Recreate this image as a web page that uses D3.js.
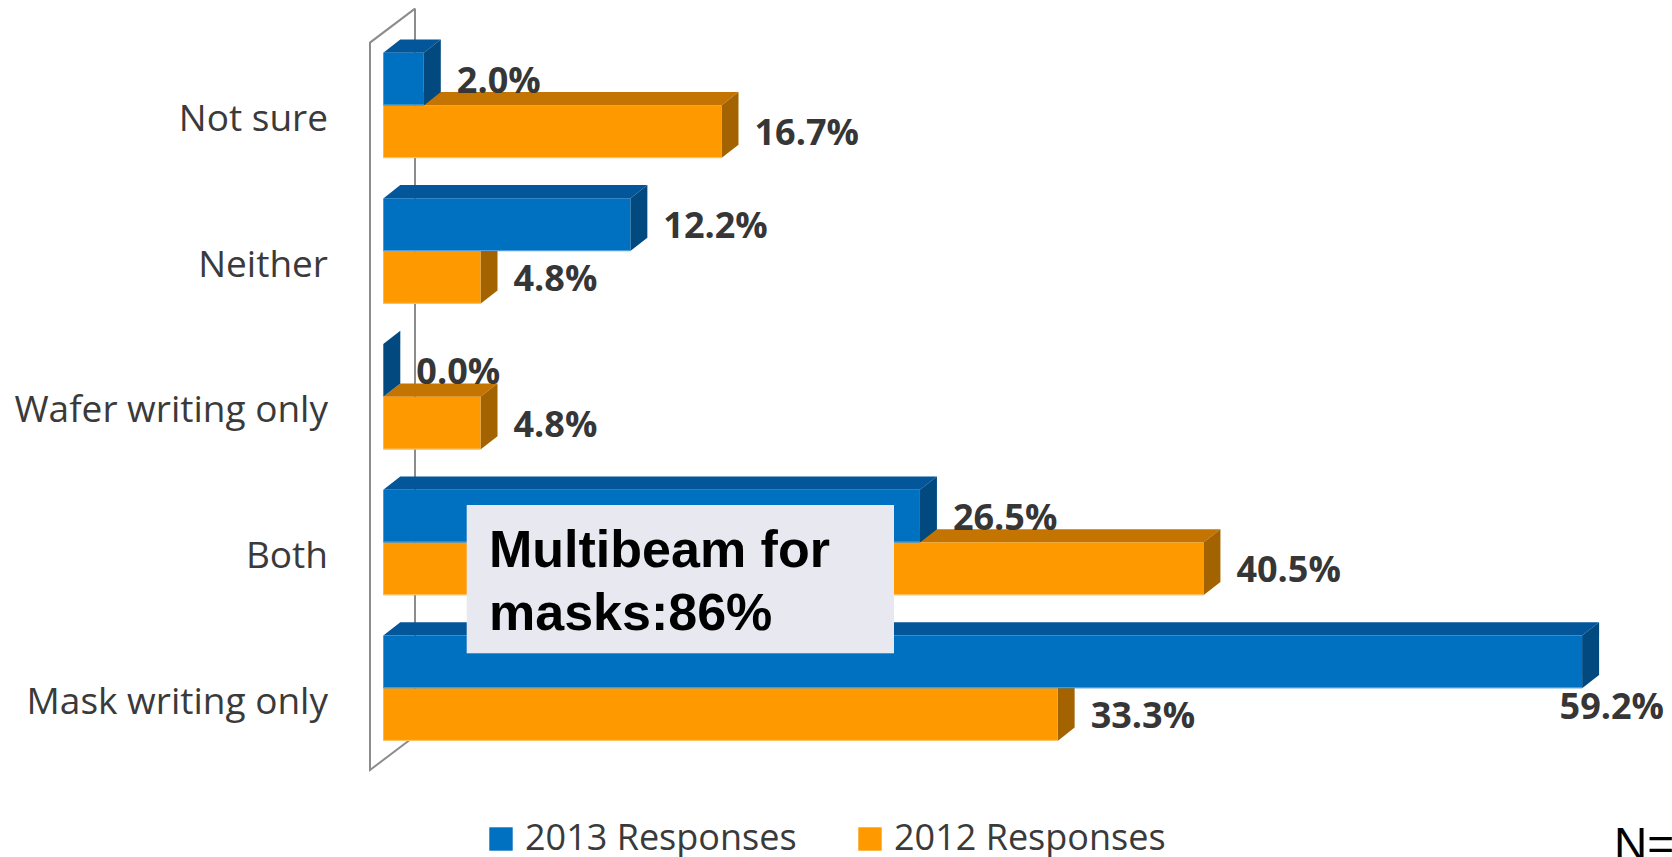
<!DOCTYPE html>
<html>
<head>
<meta charset="utf-8">
<script src="https://cdn.jsdelivr.net/npm/d3@7"></script>
<style>
  html, body { margin: 0; padding: 0; background: #ffffff; }
  svg { display: block; }
</style>
</head>
<body>
<svg id="chart" width="1672" height="857"></svg>
<script>
// Survey answers, top to bottom
const categories = ["Not sure", "Neither", "Wafer writing only", "Both", "Mask writing only"];
const seriesNames = ["2013 Responses", "2012 Responses"];
const values2013 = [2.0, 12.2, 0.0, 26.5, 59.2];
const values2012 = [16.7, 4.8, 4.8, 40.5, 33.3];
const noteLines = ["Multibeam for", "masks:86%"];
const sampleNote = "N=";

const palette = {
  "2013 Responses": { front: "#0070C0", top: "#03569A", side: "#01497F", edge: "#5AA6E0" },
  "2012 Responses": { front: "#FF9900", top: "#C47400", side: "#A36300", edge: "#FFC570" }
};

const W = 1672, H = 857;
const svg = d3.select("#chart");

// Scales
const x = d3.scaleLinear().domain([0, 60]).range([383.3, 383.3 + 60 * 20.25]);
const y = d3.scaleBand().domain(categories)
  .range([32.55, 761.05]).paddingInner(0.2766).paddingOuter(0.1383);
const ySub = d3.scaleBand().domain(seriesNames).range([0, y.bandwidth()]);

const depthX = 17, depthY = 13.3;
const plotRight = 1664;

// Back wall (3D floor edge lines)
const wallFront = x(0) - 13.3;
const wallBack = wallFront + 45;
const wallTop = 42.6, wallBottom = 770;
const wall = svg.append("g").attr("fill", "none").attr("stroke", "#8C8C8C").attr("stroke-width", 2);
wall.append("path").attr("d", `M${wallBack},${wallTop - 34} L${wallBack},${wallBottom - 34}`);
wall.append("path").attr("d",
  `M${wallBack},${wallTop - 34} L${wallFront},${wallTop} L${wallFront},${wallBottom} L${wallBack},${wallBottom - 34}`);

// Data rows
const rows = categories.map((c, i) => ({
  category: c,
  bars: [
    { series: "2012 Responses", value: values2012[i] },
    { series: "2013 Responses", value: values2013[i] }
  ]
}));

const barsG = svg.append("g");
rows.forEach(row => {
  row.bars.forEach(b => {
    const col = palette[b.series];
    const x0 = x(0), x1 = x(b.value);
    const y0 = y(row.category) + ySub(b.series);
    const y1 = y0 + ySub.bandwidth();
    const g = barsG.append("g");
    g.append("path").attr("fill", col.top)
      .attr("d", `M${x0},${y0} L${x0 + depthX},${y0 - depthY} L${x1 + depthX},${y0 - depthY} L${x1},${y0} Z`);
    g.append("path").attr("fill", col.side)
      .attr("d", `M${x1},${y0} L${x1 + depthX},${y0 - depthY} L${x1 + depthX},${y1 - depthY} L${x1},${y1} Z`);
    if (x1 > x0) {
      g.append("rect").attr("x", x0).attr("y", y0).attr("width", x1 - x0).attr("height", y1 - y0)
        .attr("fill", col.front);
      g.append("line").attr("x1", x0).attr("x2", x1).attr("y1", y1 - 0.5).attr("y2", y1 - 0.5)
        .attr("stroke", col.edge).attr("stroke-width", 1);
    }
  });
});

// Value labels
const labelsG = svg.append("g")
  .attr("font-family", "'Open Sans', sans-serif")
  .attr("font-weight", 700)
  .attr("font-size", 36)
  .attr("fill", "#363636");
rows.forEach(row => {
  row.bars.forEach(b => {
    const y0 = y(row.category) + ySub(b.series);
    const mid = y0 + ySub.bandwidth() / 2;
    const t = labelsG.append("text")
      .attr("x", x(b.value) + depthX + 16)
      .attr("y", mid + 13.5)
      .text(b.value.toFixed(1) + "%");
    const w = t.node().getComputedTextLength();
    if (x(b.value) + depthX + 16 + w > plotRight) {
      // no room on the right: tuck it under the bar end
      t.attr("text-anchor", "end").attr("x", plotRight)
        .attr("y", y0 + ySub.bandwidth() + 31);
    }
  });
});

// Category axis labels
const catG = svg.append("g")
  .attr("font-family", "'Open Sans', sans-serif")
  .attr("font-size", 37)
  .attr("fill", "#3A3A3A")
  .attr("text-anchor", "end");
categories.forEach(c => {
  catG.append("text")
    .attr("x", 328)
    .attr("y", y(c) + y.bandwidth() / 2 + 25.5)
    .text(c);
});

// Annotation box
const note = svg.append("g");
note.append("rect").attr("x", 466.7).attr("y", 505).attr("width", 427.3).attr("height", 148.3)
  .attr("fill", "#E7E8F0");
note.selectAll("text").data(noteLines).join("text")
  .attr("x", 489)
  .attr("y", (d, i) => 567.3 + i * 62.7)
  .attr("font-family", "'Liberation Sans', Arial, sans-serif")
  .attr("font-weight", 700)
  .attr("font-size", 52)
  .attr("fill", "#000000")
  .text(d => d);

// Legend
const legendX = [489.3, 858.3];
const legend = svg.append("g");
seriesNames.forEach((s, i) => {
  legend.append("rect").attr("x", legendX[i]).attr("y", 827.3).attr("width", 23.4).attr("height", 23.4)
    .attr("fill", palette[s].front);
  legend.append("text").attr("x", legendX[i] + 35.7).attr("y", 850)
    .attr("font-family", "'Open Sans', sans-serif").attr("font-size", 36).attr("fill", "#3A3A3A")
    .text(s);
});

// Sample size note at the lower right
svg.append("text").attr("x", 1614).attr("y", 859.7)
  .attr("font-family", "'Liberation Sans', Arial, sans-serif").attr("font-size", 46).attr("fill", "#000")
  .text(sampleNote);
</script>
</body>
</html>
